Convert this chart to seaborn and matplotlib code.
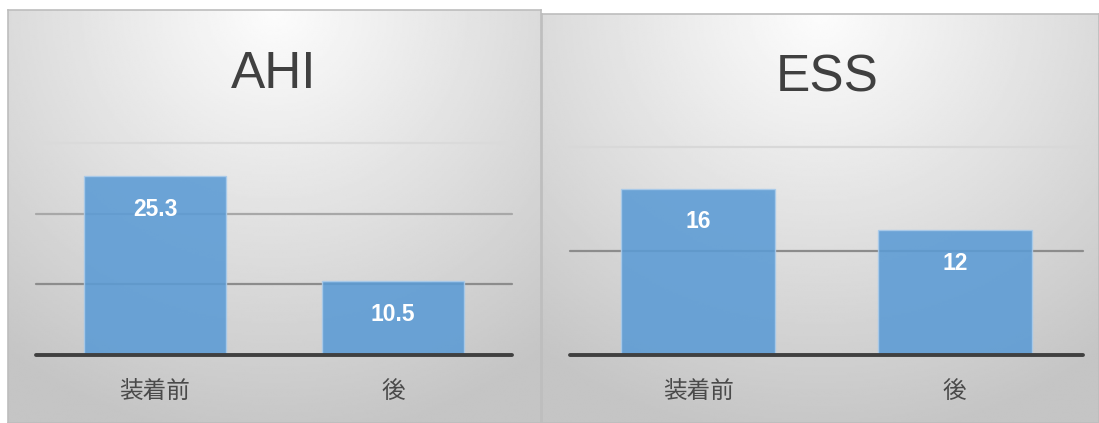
import numpy as np
import pandas as pd
import matplotlib
matplotlib.use('Agg')
import matplotlib.pyplot as plt
import seaborn as sns

# data
categories = ['装着前', '後']
ahi_values = [25.3, 10.5]
ess_values = [16, 12]
ahi_labels = ['25.3', '10.5']
ess_labels = ['16', '12']
ahi_ticks = [10, 20, 30]
ess_ticks = [10, 20]

sns.set_style('white')
plt.rcParams['font.family'] = ['Liberation Sans', 'Noto Sans CJK JP', 'DejaVu Sans']

W, H = 1099, 423
fig = plt.figure(figsize=(W / 100, H / 100), dpi=100)
fig.patch.set_facecolor('white')


def px_rect(x0, y0, x1, y1):
    return [x0 / W, 1 - y1 / H, (x1 - x0) / W, (y1 - y0) / H]


def panel_bg(rect):
    bg = fig.add_axes(rect, zorder=0)
    yy, xx = np.mgrid[0:1:200j, 0:1:300j]
    d = np.sqrt(((xx - 0.5) * 1.2) ** 2 + (yy * 0.95) ** 2)
    img = 0.99 - 0.22 * np.clip(d, 0, 1)
    bg.imshow(img, cmap='gray', vmin=0, vmax=1, aspect='auto',
              extent=[0, 1, 0, 1], interpolation='bilinear')
    bg.set_xticks([])
    bg.set_yticks([])
    for s in bg.spines.values():
        s.set_color('#bdbdbd')
        s.set_linewidth(1.2)


def bar_panel(rect, values, labels, ticks, grid_colors, title, title_xy):
    ax = fig.add_axes(rect, zorder=2)
    ax.patch.set_alpha(0)
    df = pd.DataFrame({'cat': categories, 'val': values})
    for t, c in zip(ticks, grid_colors):
        ax.axhline(t, color=c, lw=1.6, zorder=0, clip_on=False)
    sns.barplot(data=df, x='cat', y='val', ax=ax, width=0.6, color='#5b9bd5',
                saturation=1, edgecolor='#a9cbeb', linewidth=1.0, alpha=0.88, zorder=2)
    ax.axhline(0, color='#404040', lw=2.8, zorder=3, clip_on=False)
    ax.set_ylim(0, ticks[-1])
    ax.set_yticks([])
    ax.set_xlabel('')
    ax.set_ylabel('')
    for s in ax.spines.values():
        s.set_visible(False)
    ax.tick_params(axis='x', length=0, pad=19, labelsize=17, labelcolor='#4a4a4a')
    for i, (v, lab) in enumerate(zip(values, labels)):
        ax.annotate(lab, (i, v), xytext=(0, -24), textcoords='offset points',
                    ha='center', va='center', color='white', fontsize=16.5,
                    fontweight='bold')
    fig.text(title_xy[0] / W, 1 - title_xy[1] / H, title, ha='center',
             va='baseline', fontsize=37, color='#404040')
    return ax


panel_bg(px_rect(8, 10, 541, 423))
panel_bg(px_rect(542, 14, 1099, 423))

bar_panel(px_rect(36, 143, 512, 355), ahi_values, ahi_labels, ahi_ticks,
          ['#8c8c8c', '#a8a8a8', '#dadada'], 'AHI', (274, 88))
bar_panel(px_rect(570, 147, 1083, 355), ess_values, ess_labels, ess_ticks,
          ['#8c8c8c', '#d8d8d8'], 'ESS', (827, 92))

plt.savefig('out.png', dpi=100)
